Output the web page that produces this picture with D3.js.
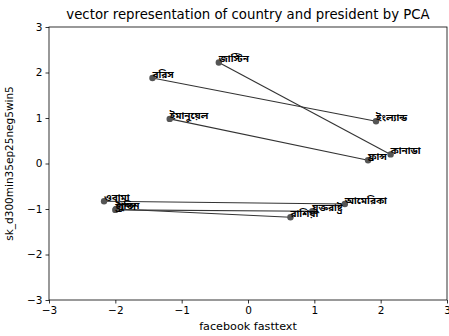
<!DOCTYPE html>
<html>
<head>
<meta charset="utf-8">
<script src="https://cdn.jsdelivr.net/npm/d3@7"></script>
<style>
  body { margin: 0; background: #fff; }
  text { font-family: "DejaVu Sans", sans-serif; }
  .lbl { font-family: "Noto Sans Bengali", "Lohit Bengali", "FreeSans", sans-serif; font-weight: bold; }
</style>
</head>
<body>
<div id="chart"></div>
<script>
// president -> country pairs, PCA coordinates
const names = ['জাস্টিন', 'বরিস', 'ইমানুয়েল', 'ওবামা', 'ট্রাম্প', 'পুতিন'];
const nameX = [-0.44, -1.44, -1.18, -2.17, -2.0, -1.99];
const nameY = [2.22, 1.88, 0.98, -0.83, -1.02, -1.0];
const countries = ['কানাডা', 'ইংল্যান্ড', 'ফ্রান্স', 'আমেরিকা', 'যুক্তরাষ্ট্র', 'রাশিয়া'];
const countryX = [2.15, 1.93, 1.81, 1.46, 0.97, 0.64];
const countryY = [0.2, 0.93, 0.07, -0.89, -1.05, -1.18];
const ticks = [-3, -2, -1, 0, 1, 2, 3];

const width = 449, height = 336;
const margin = { top: 27, right: 2, bottom: 36, left: 49 };

const svg = d3.select('#chart')
  .append('svg')
  .attr('width', width)
  .attr('height', height);

const x = d3.scaleLinear().domain([-3, 3]).range([margin.left, width - margin.right]);
const y = d3.scaleLinear().domain([-3, 3]).range([height - margin.bottom, margin.top]);

const pairs = names.map((n, i) => ({
  name: n, nx: nameX[i], ny: nameY[i],
  country: countries[i], cx: countryX[i], cy: countryY[i]
}));

// lines
svg.selectAll('line.pair')
  .data(pairs)
  .join('line')
  .attr('class', 'pair')
  .attr('x1', d => x(d.nx))
  .attr('y1', d => y(d.ny))
  .attr('x2', d => x(d.cx))
  .attr('y2', d => y(d.cy))
  .attr('stroke', '#333')
  .attr('stroke-width', 1.1);

const pts = pairs.flatMap(d => [
  { label: d.name, px: d.nx, py: d.ny },
  { label: d.country, px: d.cx, py: d.cy }
]);

svg.selectAll('circle')
  .data(pts)
  .join('circle')
  .attr('cx', d => x(d.px))
  .attr('cy', d => y(d.py))
  .attr('r', 3.2)
  .attr('fill', '#555');

svg.selectAll('text.lbl')
  .data(pts)
  .join('text')
  .attr('class', 'lbl')
  .attr('x', d => x(d.px))
  .attr('y', d => y(d.py))
  .style('font-size', '10px')
  .style('fill', '#000')
  .text(d => d.label);

// axes
const fmt = d => d < 0 ? '\u2212' + Math.abs(d) : d;
const xAxis = svg.append('g')
  .attr('transform', `translate(0,${height - margin.bottom})`)
  .call(d3.axisBottom(x).tickValues(ticks).tickSize(3.5).tickFormat(fmt));
const yAxis = svg.append('g')
  .attr('transform', `translate(${margin.left},0)`)
  .call(d3.axisLeft(y).tickValues(ticks).tickSize(3.5).tickFormat(fmt));
[xAxis, yAxis].forEach(a => {
  a.select('.domain').remove();
  a.selectAll('text').style('font-size', '10.5px').style('font-family', 'DejaVu Sans').attr('fill', '#000');
  a.selectAll('line').attr('stroke', '#000').attr('stroke-width', 0.8);
});

// frame
svg.append('rect')
  .attr('x', margin.left)
  .attr('y', margin.top)
  .attr('width', width - margin.left - margin.right)
  .attr('height', height - margin.top - margin.bottom)
  .attr('fill', 'none')
  .attr('stroke', '#000')
  .attr('stroke-width', 0.8);

svg.append('text')
  .attr('x', (margin.left + width - margin.right) / 2)
  .attr('y', 19)
  .attr('text-anchor', 'middle')
  .style('font-size', '13.3px')
  .text('vector representation of country and president by PCA');

svg.append('text')
  .attr('x', (margin.left + width - margin.right) / 2)
  .attr('y', 330)
  .attr('text-anchor', 'middle')
  .style('font-size', '11.2px')
  .text('facebook fasttext');

svg.append('text')
  .attr('transform', `translate(13,${(margin.top + height - margin.bottom) / 2}) rotate(-90)`)
  .attr('text-anchor', 'middle')
  .style('font-size', '10.5px')
  .text('sk_d300min35ep25neg5win5');
</script>
</body>
</html>
